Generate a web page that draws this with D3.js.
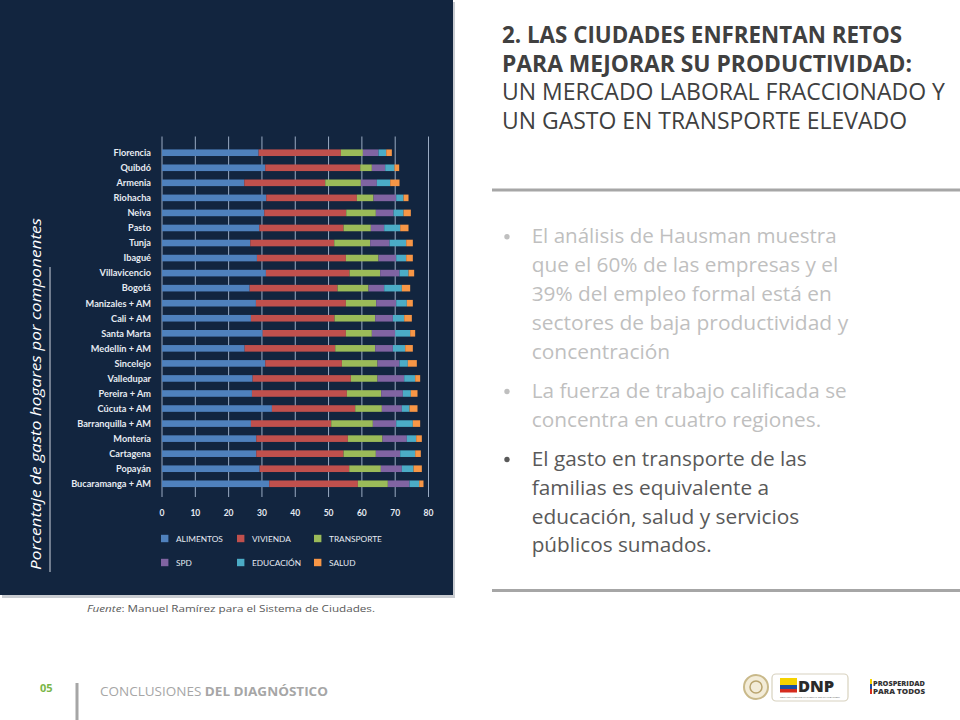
<!DOCTYPE html>
<html>
<head>
<meta charset="utf-8">
<script src="https://cdn.jsdelivr.net/npm/d3@7"></script>
<style>
html,body{margin:0;padding:0;background:#fff;}
svg{display:block;}
</style>
</head>
<body>
<svg id="c" width="960" height="720"></svg>
<script>
// ---------- DATA ----------
const cities = ["Florencia","Quibdó","Armenia","Riohacha","Neiva","Pasto","Tunja","Ibagué","Villavicencio","Bogotá","Manizales + AM","Cali + AM","Santa Marta","Medellín + AM","Sincelejo","Valledupar","Pereira + Am","Cúcuta + AM","Barranquilla + AM","Montería","Cartagena","Popayán","Bucaramanga + AM"];
const alimentos  = [29.0,31.0,24.7,31.3,30.7,29.2,26.5,28.5,31.2,26.3,28.2,26.7,30.2,24.8,31.0,27.2,27.0,33.0,26.7,28.3,28.3,29.3,32.2];
const vivienda   = [24.7,28.5,24.3,27.2,24.6,25.3,25.2,26.7,25.1,26.4,27.0,25.1,25.0,27.2,23.0,29.5,28.5,25.0,24.1,27.5,26.2,26.9,26.6];
const transporte = [6.6,3.5,10.7,5.0,8.9,8.2,10.8,9.8,9.2,9.3,9.1,12.2,7.8,12.0,10.7,8.0,10.3,8.0,12.5,10.4,9.7,9.5,9.0];
const spd        = [4.7,4.0,4.8,6.8,5.3,4.0,5.8,5.3,5.8,4.7,6.0,5.3,7.0,5.3,6.6,8.0,6.5,6.0,7.0,7.3,7.3,6.3,6.5];
const educacion  = [2.3,2.8,4.0,2.2,3.0,4.8,5.0,3.0,2.7,5.3,3.2,3.4,4.5,3.7,2.5,3.3,2.4,2.3,5.0,2.8,4.5,3.5,2.9];
const salud      = [1.7,1.4,2.8,1.5,2.2,2.5,2.0,2.0,1.7,2.5,1.8,2.3,1.5,2.3,2.7,1.5,2.0,2.4,2.2,1.7,1.7,2.5,1.3];
const seriesKeys  = ["alimentos","vivienda","transporte","spd","educacion","salud"];
const seriesNames = ["ALIMENTOS","VIVIENDA","TRANSPORTE","SPD","EDUCACIÓN","SALUD"];
const seriesColors = ["#4f81bd","#c0504d","#9bbb59","#8064a2","#4bacc6","#f79646"];
const xTicks = [0,10,20,30,40,50,60,70,80];

const titleBold = ["2. LAS CIUDADES ENFRENTAN RETOS","PARA MEJORAR SU PRODUCTIVIDAD:"];
const titleRegular = ["UN MERCADO LABORAL FRACCIONADO Y","UN GASTO EN TRANSPORTE ELEVADO"];
const bullets = [
  ["El análisis de Hausman muestra","que el 60% de las empresas y el","39% del empleo formal está en","sectores de baja productividad y","concentración"],
  ["La fuerza de trabajo calificada se","concentra en cuatro regiones."],
  ["El gasto en transporte de las","familias es equivalente a","educación, salud y servicios","públicos sumados."]
];

// ---------- DRAW ----------
const svg = d3.select("#c");
svg.append("rect").attr("width",960).attr("height",720).attr("fill","#fff");

// panel shadow + panel
svg.append("rect").attr("x",2).attr("y",2).attr("width",453).attr("height",596).attr("fill","#c9ccd1");
svg.append("rect").attr("x",0).attr("y",0).attr("width",453).attr("height",595).attr("fill","#12253f");

const rows = cities.map((c,i)=>({city:c,alimentos:alimentos[i],vivienda:vivienda[i],transporte:transporte[i],spd:spd[i],educacion:educacion[i],salud:salud[i]}));
const stacked = d3.stack().keys(seriesKeys)(rows);

const x = d3.scaleLinear().domain([0,80]).range([162,428.5]);
const y = d3.scaleBand().domain(cities).range([145.2,491.3]).padding(0);
const barH = 6.6;

// gridlines
const g = svg.append("g");
g.selectAll("line.grid").data(xTicks).join("line")
  .attr("x1",d=>x(d)).attr("x2",d=>x(d)).attr("y1",136.5).attr("y2",497)
  .attr("stroke","#9aabc3").attr("stroke-width",1);

// bars
g.selectAll("g.s").data(stacked).join("g").attr("fill",(d,i)=>seriesColors[i])
  .selectAll("rect").data(d=>d).join("rect")
  .attr("x",d=>x(d[0])).attr("width",d=>x(d[1])-x(d[0]))
  .attr("y",d=>y(d.data.city)+y.bandwidth()/2-barH/2).attr("height",barH);

// city labels
g.selectAll("text.city").data(cities).join("text")
  .attr("x",151).attr("y",d=>y(d)+y.bandwidth()/2+3.3)
  .attr("text-anchor","end").attr("fill","#e6ebf2")
  .attr("font-family","Lato, 'Open Sans', sans-serif").attr("font-weight",700).attr("font-size",9.2)
  .text(d=>d);

// x tick labels
g.selectAll("text.tick").data(xTicks).join("text")
  .attr("x",d=>x(d)).attr("y",515.5).attr("text-anchor","middle")
  .attr("fill","#e6ebf2").attr("font-family","Lato, 'Open Sans', sans-serif").attr("font-weight",700).attr("font-size",8.5)
  .text(d=>d);

// legend
const legX = [161, 237, 314];
const legY = [538.5, 562.5];
seriesNames.forEach((n,i)=>{
  const cx = legX[i%3], cy = legY[Math.floor(i/3)];
  svg.append("rect").attr("x",cx).attr("y",cy-3.7).attr("width",7.4).attr("height",7.4).attr("fill",seriesColors[i]);
  svg.append("text").attr("x",cx+15).attr("y",cy+3).attr("fill","#e6ebf2")
    .attr("font-family","Lato, 'Open Sans', sans-serif").attr("font-weight",400).attr("font-size",8.3).text(n);
});

// rotated axis title
svg.append("text").attr("transform","translate(41,570) rotate(-90)")
  .attr("fill","#ffffff").attr("font-family","'Open Sans', sans-serif").attr("font-style","italic")
  .attr("font-size",14).attr("textLength",352).attr("lengthAdjust","spacingAndGlyphs")
  .text("Porcentaje de gasto hogares por componentes");
svg.append("line").attr("x1",50).attr("x2",50).attr("y1",267).attr("y2",572).attr("stroke","#d0d6df").attr("stroke-width",1);

// source
const src = svg.append("text").attr("x",87).attr("y",611.5).attr("fill","#595959")
  .attr("font-family","'Open Sans', sans-serif").attr("font-size",9.6)
  .attr("textLength",288).attr("lengthAdjust","spacingAndGlyphs");
src.append("tspan").attr("font-style","italic").text("Fuente");
src.append("tspan").text(": Manuel Ramírez para el Sistema de Ciudades.");

// ---------- RIGHT TEXT ----------
const tW1 = [400, 410];
titleBold.forEach((t,i)=>{
  svg.append("text").attr("x",502).attr("y",42.5+i*29).attr("fill","#404040")
    .attr("font-family","'Open Sans', sans-serif").attr("font-weight",700).attr("font-size",23)
    .attr("textLength",tW1[i]).attr("lengthAdjust","spacingAndGlyphs").text(t);
});
const tW2 = [443, 405];
titleRegular.forEach((t,i)=>{
  svg.append("text").attr("x",502).attr("y",100+i*28.5).attr("fill","#404040")
    .attr("font-family","'Open Sans', sans-serif").attr("font-weight",400).attr("font-size",23)
    .attr("textLength",tW2[i]).attr("lengthAdjust","spacingAndGlyphs").text(t);
});
svg.append("rect").attr("x",492).attr("y",188.5).attr("width",468).attr("height",3).attr("fill","#a6a6a6");
svg.append("rect").attr("x",492).attr("y",589).attr("width",468).attr("height",3).attr("fill","#a6a6a6");

const bulletWidths = [[305,306.5,300,316.5,138.5],[315,289.5],[275,237.5,267.5,180]];
const bulletTop = [243.3, 398, 466];
const bulletColors = ["#bfbfbf","#bfbfbf","#595959"];
bullets.forEach((lines,b)=>{
  svg.append("circle").attr("cx",507).attr("cy",bulletTop[b]-6.5).attr("r",2.7).attr("fill",bulletColors[b]);
  lines.forEach((t,i)=>{
    svg.append("text").attr("x",531.7).attr("y",bulletTop[b]+i*28.8).attr("fill",bulletColors[b])
      .attr("font-family","'Open Sans', sans-serif").attr("font-size",19.5)
      .attr("textLength",bulletWidths[b][i]).attr("lengthAdjust","spacingAndGlyphs").text(t);
  });
});

// ---------- FOOTER ----------
svg.append("text").attr("x",40).attr("y",692).attr("fill","#7ab648")
  .attr("font-family","'Open Sans', sans-serif").attr("font-weight",700).attr("font-size",11).text("05");
svg.append("rect").attr("x",75.5).attr("y",683).attr("width",3).attr("height",37).attr("fill","#a6a6a6");
const foot = svg.append("text").attr("x",100).attr("y",696).attr("fill","#a6a6a6")
  .attr("font-family","'Open Sans', sans-serif").attr("font-size",13)
  .attr("textLength",228).attr("lengthAdjust","spacingAndGlyphs");
foot.append("tspan").text("CONCLUSIONES ");
foot.append("tspan").attr("font-weight",700).text("DEL DIAGNÓSTICO");

// logos (simplified)
svg.append("circle").attr("cx",756).attr("cy",687).attr("r",12).attr("fill","#f3ecd8").attr("stroke","#c9b98a").attr("stroke-width",2);
svg.append("circle").attr("cx",756).attr("cy",687).attr("r",6).attr("fill","none").attr("stroke","#b9a46e").attr("stroke-width",1.5);
svg.append("rect").attr("x",772).attr("y",674).attr("width",76).attr("height",27).attr("rx",4).attr("fill","#fff").attr("stroke","#d8d2bf").attr("stroke-width",1.2);
svg.append("rect").attr("x",780).attr("y",678).attr("width",17).attr("height",7).attr("fill","#f5d200");
svg.append("rect").attr("x",780).attr("y",685).attr("width",17).attr("height",4).attr("fill","#1c4fa0");
svg.append("rect").attr("x",780).attr("y",689).attr("width",17).attr("height",3.5).attr("fill","#d52b1e");
svg.append("text").attr("x",798).attr("y",691.5).attr("fill","#2a2a2a").attr("font-family","'Open Sans', sans-serif").attr("font-weight",800).attr("font-size",16.5).text("DNP");
svg.append("text").attr("x",780).attr("y",698).attr("fill","#555").attr("font-family","'Open Sans', sans-serif").attr("font-size",2.4).attr("textLength",60).attr("lengthAdjust","spacingAndGlyphs").text("DEPARTAMENTO NACIONAL DE PLANEACIÓN");
svg.append("rect").attr("x",870).attr("y",679).attr("width",2).attr("height",5).attr("fill","#f5d200");
svg.append("rect").attr("x",870).attr("y",684).attr("width",2).attr("height",5).attr("fill","#1c4fa0");
svg.append("rect").attr("x",870).attr("y",689).attr("width",2).attr("height",5).attr("fill","#d52b1e");
svg.append("text").attr("x",873).attr("y",686).attr("fill","#333").attr("font-family","'Open Sans', sans-serif").attr("font-weight",800).attr("font-size",6.5).attr("textLength",52).attr("lengthAdjust","spacingAndGlyphs").text("PROSPERIDAD");
svg.append("text").attr("x",873).attr("y",693.5).attr("fill","#333").attr("font-family","'Open Sans', sans-serif").attr("font-weight",800).attr("font-size",6.5).attr("textLength",52).attr("lengthAdjust","spacingAndGlyphs").text("PARA TODOS");
</script>
</body>
</html>
